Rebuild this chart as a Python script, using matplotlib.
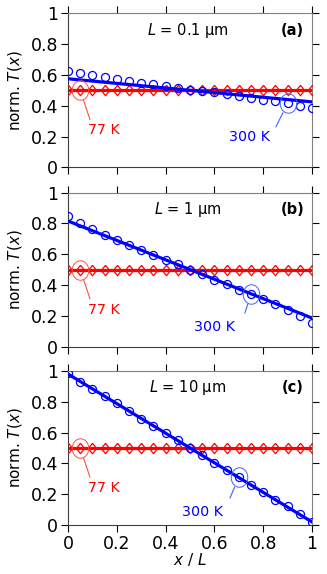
import numpy as np
import matplotlib.pyplot as plt

plt.rcParams['font.family'] = ['DejaVu Sans']
plt.rcParams['mathtext.fontset'] = 'dejavusans'

x = np.round(np.arange(0, 1.0001, 0.05), 2)

# 300 K data (circles) for the three lengths
t300_a = [0.625, 0.612, 0.598, 0.585, 0.573, 0.56, 0.55, 0.54, 0.528, 0.517, 0.505,
          0.497, 0.487, 0.476, 0.465, 0.452, 0.44, 0.428, 0.415, 0.398, 0.383]
t300_b = [0.85, 0.80, 0.765, 0.725, 0.69, 0.66, 0.63, 0.595, 0.565, 0.535, 0.50,
          0.47, 0.435, 0.405, 0.37, 0.34, 0.31, 0.275, 0.235, 0.20, 0.155]
t300_c = [0.985, 0.93, 0.885, 0.835, 0.79, 0.74, 0.69, 0.645, 0.595, 0.55, 0.50,
          0.455, 0.405, 0.355, 0.31, 0.26, 0.215, 0.165, 0.12, 0.07, 0.02]
# linear fits (end values)
fit300_a = [0.575, 0.425]
fit300_b = [0.815, 0.185]
fit300_c = [0.98, 0.02]
# 77 K data (diamonds)
t77 = [0.5] * 21
fit77 = [0.5, 0.5]

lengths = ['0.1', '1', '10']
tags = ['(a)', '(b)', '(c)']
t300 = [t300_a, t300_b, t300_c]
fits = [fit300_a, fit300_b, fit300_c]
# 300 K annotation: highlighted point index, text pos, line end
hl300 = [18, 15, 14]
txt300 = [(0.746, 0.197), (0.60, 0.126), (0.553, 0.084)]
end300 = [(0.852, 0.262), (0.725, 0.217), (0.664, 0.175)]
txt77 = (0.148, 0.24)
end77 = (0.09, 0.31)

# slightly tall ellipse used to highlight points, and a diamond marker
th = np.linspace(0, 2 * np.pi, 60)
ell = np.column_stack([0.85 * np.cos(th), np.sin(th)])
diam = [(0, 1), (0.8, 0), (0, -1), (-0.8, 0), (0, 1)]

fig = plt.figure(figsize=(3.27, 5.74), dpi=100)
bottoms = [0.7085, 0.3963, 0.0854]
gray = '#808080'
dark = '#404040'

for i in range(3):
    ax = fig.add_axes([0.208, bottoms[i], 0.746, 0.2683])
    ax.plot([0, 1], fit77, color='red', lw=2.3, zorder=2)
    ax.plot(x, t77, marker=diam, ls='none', ms=7.5, mfc='none', mec='red', mew=0.9, zorder=3)
    ax.plot([0, 1], fits[i], color='blue', lw=2.3, zorder=4)
    ax.plot(x, t300[i], 'o', ms=5.8, mfc='none', mec='blue', mew=0.9, zorder=5)

    # highlight ellipses and leader lines
    ax.plot(x[1], t77[1], marker=ell, ms=14, mfc='none', mec='#ff5040', mew=0.7, zorder=6)
    ax.annotate('', xy=(x[1], t77[1]), xytext=end77,
                arrowprops=dict(arrowstyle='-', color='#ff5040', lw=0.8,
                                shrinkA=0, shrinkB=7.5))
    ax.text(*txt77, '77 K', color='red', fontsize=10.3, ha='center', va='center')
    j = hl300[i]
    ax.plot(x[j], t300[i][j], marker=ell, ms=14, mfc='none', mec='#4060ff', mew=0.7, zorder=6)
    ax.annotate('', xy=(x[j], t300[i][j]), xytext=end300[i],
                arrowprops=dict(arrowstyle='-', color='#4060ff', lw=0.8,
                                shrinkA=0, shrinkB=7.5))
    ax.text(*txt300[i], '300 K', color='blue', fontsize=10.3, ha='center', va='center')

    ax.text(0.49, 0.89, '$L$ = ' + lengths[i] + ' μm', fontsize=10.5,
            ha='center', va='center')
    ax.text(0.92, 0.89, tags[i], fontsize=10.5, fontweight='bold',
            ha='center', va='center')

    ax.set_xlim(0, 1)
    ax.set_ylim(0, 1)
    ax.set_xticks(np.arange(0, 1.01, 0.2))
    ax.set_yticks(np.arange(0, 1.01, 0.2))
    ax.set_yticklabels(['0', '0.2', '0.4', '0.6', '0.8', '1'])
    ax.tick_params(direction='out', length=5, width=0.8, labelsize=12.5,
                   top=True, right=True, pad=2)
    for s in ['top', 'right']:
        ax.spines[s].set_color(gray)
    for s in ['left', 'bottom']:
        ax.spines[s].set_color(dark)
    for t in ax.xaxis.get_major_ticks() + ax.yaxis.get_major_ticks():
        t.tick2line.set_color(gray)
        t.tick1line.set_color(dark)
    ax.set_ylabel('norm. $T$($x$)', fontsize=11, labelpad=5)
    if i < 2:
        ax.set_xticklabels([])
    else:
        ax.set_xticklabels(['0', '0.2', '0.4', '0.6', '0.8', '1'])
        ax.set_xlabel('$x$ / $L$', fontsize=11, labelpad=-1)

fig.savefig('out.png', dpi=100)
